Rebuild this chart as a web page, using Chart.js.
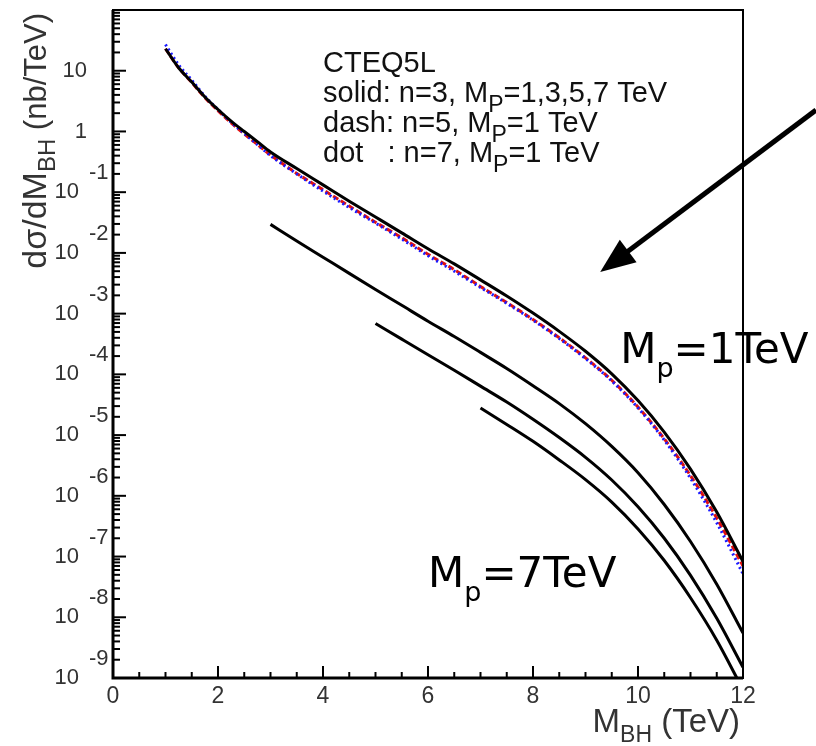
<!DOCTYPE html>
<html>
<head>
<meta charset="utf-8">
<script src="https://cdn.jsdelivr.net/npm/chart.js@4.4.1/dist/chart.umd.min.js"></script>
<style>
  body { margin: 0; background: #fff; }
  #wrap { width: 816px; height: 746px; }
</style>
</head>
<body>
<div id="wrap"><canvas id="bhChart"></canvas></div>
<script>
// black hole production, dsigma/dM vs M_BH (log scale)
const X_MIN = 0, X_MAX = 12;
const Y_MIN = 1e-9, Y_MAX = 1e2;
const xTickStep = 2;

// M_P = 1 TeV curves (n = 3 solid, n = 5 dash, n = 7 dot)
const mass1 = [1, 1.25, 1.5, 1.75, 2, 2.25, 2.5, 2.75, 3, 3.5, 4, 4.5, 5, 5.5, 6, 6.5, 7, 7.5, 8, 8.5, 9, 9.5, 10, 10.5, 11, 11.5, 12];
const solidMp1 = [23, 11.2, 6.5, 3.7, 2.3, 1.48, 1.0, 0.68, 0.46, 0.245, 0.132, 0.071, 0.039, 0.0214, 0.0117, 0.0066, 0.0036, 0.00195, 0.00102, 5.1e-4, 2.4e-4, 1.02e-4, 3.7e-5, 1.12e-5, 2.75e-6, 5.4e-7, 8.3e-8];
const dashN5 = [23, 11.2, 6.4, 3.6, 2.2, 1.38, 0.91, 0.61, 0.41, 0.204, 0.110, 0.059, 0.032, 0.0178, 0.0095, 0.0053, 0.0028, 0.00152, 8.0e-4, 4.0e-4, 1.87e-4, 8.0e-5, 2.9e-5, 8.7e-6, 2.15e-6, 4.3e-7, 7.0e-8];
const dotN7 = [27, 12.5, 7.0, 3.8, 2.3, 1.42, 0.93, 0.61, 0.40, 0.20, 0.104, 0.056, 0.031, 0.0169, 0.0090, 0.0050, 0.0027, 0.00148, 7.8e-4, 3.9e-4, 1.82e-4, 7.8e-5, 2.8e-5, 8.3e-6, 1.95e-6, 3.6e-7, 5.2e-8];

// n = 3, M_P = 3, 5, 7 TeV
const mass3 = [3, 3.5, 4, 4.5, 5, 5.5, 6, 6.5, 7, 7.5, 8, 8.5, 9, 9.5, 10, 10.5, 11, 11.5, 12];
const solidMp3 = [0.0295, 0.0157, 0.0085, 0.0046, 0.0025, 0.00137, 7.5e-4, 4.2e-4, 2.3e-4, 1.25e-4, 6.5e-5, 3.3e-5, 1.54e-5, 6.5e-6, 2.4e-6, 7.2e-7, 1.77e-7, 3.5e-8, 5.5e-9];
const mass5 = [5, 5.5, 6, 6.5, 7, 7.5, 8, 8.5, 9, 9.5, 10, 10.5, 11, 11.5, 12];
const solidMp5 = [6.9e-4, 3.8e-4, 2.1e-4, 1.17e-4, 6.4e-5, 3.5e-5, 1.82e-5, 9.1e-6, 4.3e-6, 1.82e-6, 6.6e-7, 2.0e-7, 4.9e-8, 9.6e-9, 1.5e-9];
const mass7 = [7, 7.5, 8, 8.5, 9, 9.5, 10, 10.5, 11, 11.5, 12];
const solidMp7 = [2.8e-5, 1.5e-5, 7.9e-6, 3.9e-6, 1.85e-6, 7.9e-7, 2.85e-7, 8.6e-8, 2.1e-8, 4.2e-9, 6.4e-10];

// text on the plot
const noteLines = [
  [['CTEQ5L']],
  [['solid: n=3, M'], ['P', 'sub'], ['=1,3,5,7 TeV']],
  [['dash: n=5, M'], ['P', 'sub'], ['=1 TeV']],
  [['dot   : n=7, M'], ['P', 'sub'], ['=1 TeV']]
];

const ROOT_FONT = '"Liberation Sans", Arial, sans-serif';
const SLIDE_FONT = '"DejaVu Sans", Verdana, sans-serif';

function pts(xs, ys) {
  return xs.map((m, i) => ({x: m, y: ys[i]}));
}

function curve(label, xs, ys, color, dash) {
  return {
    label: label,
    data: pts(xs, ys),
    borderColor: color,
    borderWidth: 3,
    borderDash: dash || [],
    pointRadius: 0,
    fill: false,
    cubicInterpolationMode: 'monotone'
  };
}

// draws a run of [text, 'sub'?] pieces starting at x, returns end x
function drawPieces(ctx, pieces, x, y, size, subSize, subDy, family) {
  pieces.forEach(p => {
    const isSub = p[1] === 'sub';
    ctx.font = (isSub ? subSize : size) + 'px ' + family;
    ctx.fillText(p[0], x, y + (isSub ? subDy : 0));
    x += ctx.measureText(p[0]).width;
  });
  return x;
}

// pieces as [text, dy, size]
function piecesWidth(ctx, pieces) {
  let w = 0;
  pieces.forEach(p => {
    ctx.font = p[2] + 'px ' + ROOT_FONT;
    w += ctx.measureText(p[0]).width;
  });
  return w;
}

const rootDecor = {
  id: 'rootDecor',
  afterDraw(chart) {
    const {ctx, chartArea: a, scales: {x, y}} = chart;
    ctx.save();

    // frame
    ctx.strokeStyle = '#000';
    ctx.lineWidth = 2;
    ctx.strokeRect(a.left, a.top, a.right - a.left, a.bottom - a.top);
    ctx.lineWidth = 3;
    ctx.beginPath();
    ctx.moveTo(a.left, a.top);
    ctx.lineTo(a.left, a.bottom);
    ctx.lineTo(a.right, a.bottom);
    ctx.stroke();

    // x ticks, pointing inside
    ctx.lineWidth = 2;
    for (let v = X_MIN; v <= X_MAX + 1e-9; v += 0.5) {
      const px = x.getPixelForValue(v);
      const len = (v % xTickStep === 0) ? 12 : 6;
      ctx.beginPath();
      ctx.moveTo(px, a.bottom);
      ctx.lineTo(px, a.bottom - len);
      ctx.stroke();
    }

    // y ticks (decades + 2..9) and ROOT style labels
    ctx.fillStyle = '#333';
    ctx.textBaseline = 'middle';
    for (let e = Math.log10(Y_MIN); e < Math.log10(Y_MAX); e++) {
      for (let m = 1; m <= 9; m++) {
        const v = m * Math.pow(10, e);
        const py = y.getPixelForValue(v);
        ctx.beginPath();
        ctx.moveTo(a.left, py);
        ctx.lineTo(a.left + (m === 1 ? 13 : 7), py);
        ctx.stroke();
      }
      const py = y.getPixelForValue(Math.pow(10, e));
      ctx.font = '22px ' + ROOT_FONT;
      if (e >= 0) {
        ctx.textAlign = 'right';
        ctx.fillText(e === 0 ? '1' : '10', a.left - 26, py);
      } else {
        ctx.textAlign = 'right';
        ctx.fillText('10', a.left - 34, py);
        ctx.textAlign = 'left';
        ctx.fillText(String(e), a.left - 24, py - 19);
      }
    }

    // axis titles
    ctx.textBaseline = 'alphabetic';
    ctx.textAlign = 'left';
    ctx.fillStyle = '#333';
    const xt = [['M', 0, 33], ['BH', 10, 23], [' (TeV)', 0, 33]];
    let cx = a.right - 3 - piecesWidth(ctx, xt);
    xt.forEach(p => {
      ctx.font = p[2] + 'px ' + ROOT_FONT;
      ctx.fillText(p[0], cx, 732 + p[1]);
      cx += ctx.measureText(p[0]).width;
    });

    const yt = [['d\u03c3/dM', 0, 34], ['BH', 9, 24], [' (nb/TeV)', 0, 31]];
    const yw = piecesWidth(ctx, yt);
    ctx.save();
    ctx.translate(46, a.top + 3);
    ctx.rotate(-Math.PI / 2);
    let rx = -yw;
    yt.forEach(p => {
      ctx.font = p[2] + 'px ' + ROOT_FONT;
      ctx.fillText(p[0], rx, p[1]);
      rx += ctx.measureText(p[0]).width;
    });
    ctx.restore();

    // legend-ish note
    ctx.fillStyle = '#111';
    const nx = x.getPixelForValue(4.0);
    const ny = y.getPixelForValue(9.5);
    noteLines.forEach((line, i) => {
      drawPieces(ctx, line, nx, ny + i * 30, 29, 23, 10, ROOT_FONT);
    });

    // M_p labels
    ctx.fillStyle = '#000';
    drawPieces(ctx, [['M'], ['p', 'sub'], ['=1TeV']],
      x.getPixelForValue(9.66), y.getPixelForValue(1.55e-4), 42, 27, 14, SLIDE_FONT);
    drawPieces(ctx, [['M'], ['p', 'sub'], ['=7TeV']],
      x.getPixelForValue(6.0), y.getPixelForValue(3.2e-8), 42, 27, 14, SLIDE_FONT);

    // arrow
    const tx = x.getPixelForValue(9.28), ty = y.getPixelForValue(4.85e-3);
    const sx = x.getPixelForValue(13.39), sy = y.getPixelForValue(2.25);
    const dx = sx - tx, dy = sy - ty, d = Math.hypot(dx, dy);
    const ux = dx / d, uy = dy / d;
    const hl = 35, hw = 14;
    ctx.strokeStyle = '#000';
    ctx.lineWidth = 5;
    ctx.beginPath();
    ctx.moveTo(sx, sy);
    ctx.lineTo(tx + ux * (hl - 4), ty + uy * (hl - 4));
    ctx.stroke();
    ctx.beginPath();
    ctx.moveTo(tx, ty);
    ctx.lineTo(tx + ux * hl - uy * hw, ty + uy * hl + ux * hw);
    ctx.lineTo(tx + ux * hl + uy * hw, ty + uy * hl - ux * hw);
    ctx.closePath();
    ctx.fill();

    ctx.restore();
  }
};

new Chart(document.getElementById('bhChart'), {
  type: 'line',
  data: {
    datasets: [
      curve('n=3, Mp=1', mass1, solidMp1, '#000'),
      curve('n=7, Mp=1', mass1, dotN7, '#1a1aff', [2, 3]),
      curve('n=5, Mp=1', mass1, dashN5, '#e01010', [6, 3]),
      curve('n=3, Mp=3', mass3, solidMp3, '#000'),
      curve('n=3, Mp=5', mass5, solidMp5, '#000'),
      curve('n=3, Mp=7', mass7, solidMp7, '#000')
    ]
  },
  options: {
    responsive: true,
    maintainAspectRatio: false,
    animation: false,
    layout: { padding: { left: 113, top: 10, right: 73, bottom: 0 } },
    plugins: { legend: { display: false }, tooltip: { enabled: false } },
    scales: {
      x: {
        type: 'linear', min: X_MIN, max: X_MAX,
        grid: { display: false, drawTicks: false },
        border: { display: false },
        ticks: { stepSize: xTickStep, autoSkip: false, maxRotation: 0, padding: 5, color: '#333',
                 font: { family: ROOT_FONT, size: 23 } },
        afterFit(s) { s.height = 68; }
      },
      y: {
        type: 'logarithmic', min: Y_MIN, max: Y_MAX,
        grid: { display: false, drawTicks: false },
        border: { display: false },
        ticks: { display: false },
        afterFit(s) { s.width = 0; }
      }
    }
  },
  plugins: [rootDecor]
});
</script>
</body>
</html>
